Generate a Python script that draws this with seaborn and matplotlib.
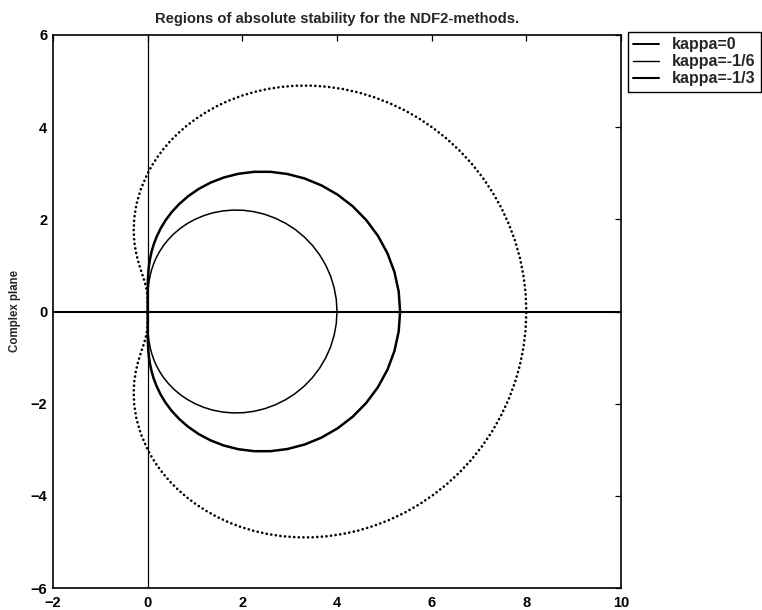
import matplotlib
matplotlib.use("Agg")
import matplotlib.pyplot as plt
from matplotlib.lines import Line2D
import pandas as pd
import seaborn as sns

# Boundary loci of the NDF2 stability regions, upper half-plane
# (points ordered from the origin round to the positive real axis).
# kappa = 0  (BDF2)
bdf_re = [0.0, 0.0, 0.0, 0.001, 0.004, 0.009, 0.018, 0.033, 0.055, 0.086,
          0.128, 0.182, 0.250, 0.333, 0.433, 0.549, 0.683, 0.833, 1.000,
          1.182, 1.377, 1.585, 1.801, 2.024, 2.250, 2.476, 2.699, 2.914,
          3.119, 3.309, 3.482, 3.634, 3.762, 3.865, 3.939, 3.985, 4.000]
bdf_im = [0.0, 0.087, 0.176, 0.268, 0.363, 0.462, 0.567, 0.677, 0.793, 0.914,
          1.040, 1.168, 1.299, 1.430, 1.558, 1.682, 1.799, 1.906, 2.000,
          2.079, 2.141, 2.182, 2.201, 2.196, 2.165, 2.108, 2.024, 1.914,
          1.778, 1.617, 1.433, 1.228, 1.005, 0.768, 0.518, 0.261, 0.0]

# kappa = -1/6
ndf6_re = [0.0, 0.0, 0.0, 0.0, 0.0, 0.001, 0.002, 0.004, 0.009, 0.017,
           0.030, 0.052, 0.083, 0.128, 0.190, 0.271, 0.376, 0.507, 0.667,
           0.857, 1.078, 1.330, 1.611, 1.919, 2.250, 2.598, 2.956, 3.317,
           3.672, 4.013, 4.332, 4.618, 4.865, 5.065, 5.213, 5.303, 5.333]
ndf6_im = [0.0, 0.087, 0.175, 0.265, 0.357, 0.451, 0.551, 0.655, 0.767, 0.886,
           1.014, 1.151, 1.299, 1.457, 1.623, 1.797, 1.976, 2.156, 2.333,
           2.503, 2.660, 2.797, 2.909, 2.989, 3.031, 3.031, 2.983, 2.886,
           2.736, 2.535, 2.283, 1.984, 1.642, 1.265, 0.859, 0.435, 0.0]

# kappa = -1/3
ndf3_re = [0.0, 0.0, 0.0, -0.002, -0.007, -0.016, -0.031, -0.054, -0.084,
           -0.121, -0.164, -0.209, -0.250, -0.282, -0.296, -0.284, -0.237,
           -0.145, 0.0,
           0.095, 0.206, 0.334, 0.478, 0.641, 0.820, 1.018, 1.232, 1.463,
           1.711, 1.973, 2.250, 2.540, 2.841, 3.151, 3.469, 3.794, 4.121,
           4.450, 4.778, 5.103, 5.422, 5.732, 6.031, 6.317, 6.587, 6.839,
           7.071, 7.281, 7.466, 7.626, 7.759, 7.864, 7.939, 7.985, 8.0]
ndf3_im = [0.0, 0.087, 0.174, 0.259, 0.345, 0.430, 0.518, 0.611, 0.713,
           0.828, 0.962, 1.117, 1.299, 1.511, 1.753, 2.027, 2.330, 2.656,
           3.000,
           3.175, 3.351, 3.526, 3.698, 3.866, 4.027, 4.181, 4.324, 4.456,
           4.575, 4.678, 4.763, 4.830, 4.876, 4.900, 4.901, 4.877, 4.828,
           4.754, 4.652, 4.524, 4.370, 4.189, 3.982, 3.750, 3.494, 3.216,
           2.916, 2.596, 2.259, 1.907, 1.542, 1.166, 0.782, 0.392, 0.0]

kappa_labels = ["kappa=0", "kappa=-1/6", "kappa=-1/3"]
title_text = "Regions of absolute stability for the NDF2-methods."
ylabel_text = "Complex plane"
x_ticks = [-2, 0, 2, 4, 6, 8, 10]
y_ticks = [-6, -4, -2, 0, 2, 4, 6]


def closed_locus(re_upper, im_upper, label):
    """Join the upper half with its mirror image to close the curve."""
    re = list(re_upper) + list(re_upper[::-1][1:])
    im = list(im_upper) + [-v for v in im_upper[::-1][1:]]
    return pd.DataFrame({"re": re, "im": im, "kappa": label})


sns.set_style("white")
plt.rcParams["font.family"] = ["Liberation Sans", "DejaVu Sans"]

fig = plt.figure(figsize=(7.62, 6.10), dpi=100)
ax = fig.add_axes([53 / 762, 22 / 610, 568 / 762, 553 / 610])

# coordinate axes through the origin
ax.axhline(0, color="black", lw=1.5, zorder=1)
ax.axvline(0, color="black", lw=0.9, zorder=1)

sns.lineplot(data=closed_locus(bdf_re, bdf_im, kappa_labels[0]),
             x="re", y="im", sort=False, estimator=None,
             color="black", lw=1.1, ax=ax, legend=False)
sns.lineplot(data=closed_locus(ndf6_re, ndf6_im, kappa_labels[1]),
             x="re", y="im", sort=False, estimator=None,
             color="black", lw=1.8, ax=ax, legend=False)
sns.lineplot(data=closed_locus(ndf3_re, ndf3_im, kappa_labels[2]),
             x="re", y="im", sort=False, estimator=None,
             color="black", lw=1.9, linestyle=(0, (0.05, 1.7)),
             dash_capstyle="round", ax=ax, legend=False)

ax.set_xlim(-2, 10)
ax.set_ylim(-6, 6)
ax.set_xticks(x_ticks)
ax.set_yticks(y_ticks)
ax.tick_params(direction="in", length=4, width=0.9, top=True, right=True,
               labelsize=10.5, colors="black")
ax.tick_params(axis="x", pad=6)
ax.tick_params(axis="y", pad=4)
for lab in ax.get_xticklabels() + ax.get_yticklabels():
    lab.set_fontweight("bold")
for sp in ax.spines.values():
    sp.set_color("black")
    sp.set_linewidth(1.2)

ax.set_xlabel("")
ax.set_ylabel(ylabel_text, fontsize=8.3, fontweight="bold", labelpad=7)
ax.set_title(title_text, fontsize=10.6, fontweight="bold", pad=9)

handles = [Line2D([], [], color="black", lw=1.4),
           Line2D([], [], color="black", lw=1.0),
           Line2D([], [], color="black", lw=1.5)]
leg = ax.legend(handles, kappa_labels, loc="upper left",
                bbox_to_anchor=(1.012, 1.006), borderaxespad=0,
                frameon=True, fancybox=False, edgecolor="black",
                framealpha=1, handlelength=1.6, handletextpad=0.8,
                labelspacing=0.12, borderpad=0.35,
                prop={"size": 11.5, "weight": "bold"})
leg.get_frame().set_linewidth(1.0)

fig.savefig("out.png", dpi=100)
